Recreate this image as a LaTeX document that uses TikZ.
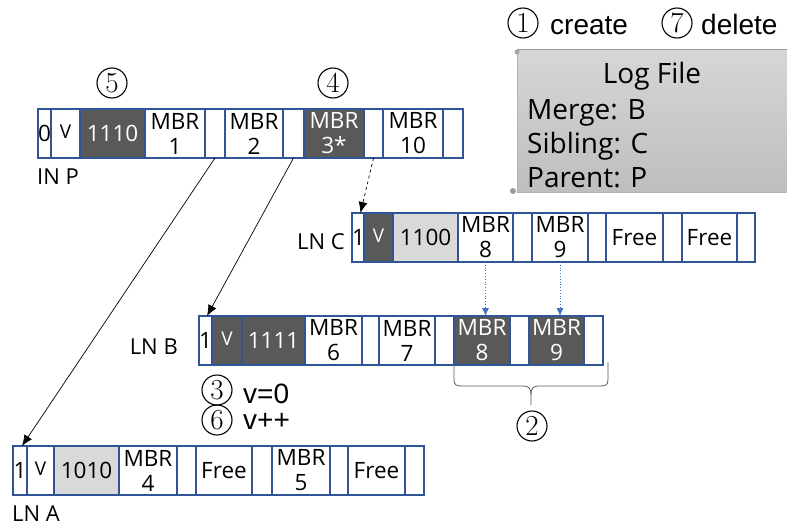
\documentclass[tikz,border=0pt]{standalone}
\usepackage{fontspec}
\setsansfont{Open Sans}
\newfontfamily\arialfont{Liberation Sans}
\usetikzlibrary{arrows.meta,calc}

\definecolor{cellblue}{HTML}{2F5597}
\definecolor{darkcell}{HTML}{595959}
\definecolor{lightcell}{HTML}{D9D9D9}
\definecolor{ptrblue}{HTML}{4472C4}
\definecolor{logtop}{HTML}{D6D6D6}
\definecolor{logbot}{HTML}{BEBEBE}

\tikzset{
  cell/.style={draw=cellblue, line width=1.1pt, inner sep=0pt, outer sep=0pt,
    anchor=north west, align=center, fill=white, text=black,
    minimum height=49pt, font=\sffamily\fontsize{22.5}{25}\selectfont},
  dk/.style={fill=darkcell, text=white},
  lt/.style={fill=lightcell},
  ptr/.style={line width=0.7pt, -{Latex[length=11pt,width=9pt]}},
  bptr/.style={ptrblue, line width=0.8pt, dotted, -{Latex[length=8pt,width=7pt]}},
  circnum/.style={circle, draw, line width=1.1pt, minimum size=30pt, inner sep=0pt,
    font=\rmfamily\fontsize{29}{29}\selectfont},
  rowlabel/.style={font=\sffamily\fontsize{22}{24}\selectfont, inner sep=0pt},
  steptext/.style={font=\arialfont\fontsize{28}{32}\selectfont, inner sep=0pt, anchor=base west},
  logtext/.style={font=\sffamily\fontsize{28}{30}\selectfont, inner sep=0pt},
}

% one cell of a node row: name, left x, right x, top y, style, text
\newcommand\mkcell[6]{%
  \node[cell,#5,minimum width={(#3-#2)*1pt}] (#1) at (#2,#4) {#6};}
\newcommand\vflag{\raisebox{3pt}{\fontsize{19}{20}\selectfont V}}

\begin{document}
\begin{tikzpicture}[x=1pt,y=-1pt]
\useasboundingbox (0,0) rectangle (787,527);
\clip (0,0) rectangle (787,527);

% ---- log file scroll ----
\shade[top color=logtop, bottom color=logbot] (517,50) rectangle (795,192);
\draw[gray!80, line width=1pt] (517,50) -- (795,50);
\draw[gray!60, line width=0.8pt] (517,50) -- (517,192) -- (795,192);
\fill[gray!70] (517,52) circle (2.5);
\fill[gray!80] (513,191) circle (3);
\node[logtext, anchor=base] (logtitle) at (652,83) {Log File};
\node[logtext, anchor=base west] (logm) at (527,119) {Merge: B};
\node[logtext, anchor=base west] (logs) at (527,153) {Sibling: C};
\node[logtext, anchor=base west] (logp) at (527,187) {Parent: P};

\node[circnum] (n1) at (523,23) {1};
\node[steptext] (tcreate) at (550,35) {create};
\node[circnum] (n7) at (677,23) {7};
\node[steptext] (tdelete) at (701,35) {delete};

% ---- inner node P ----
\mkcell{p0}{38}{51}{109}{}{0}
\mkcell{p1}{51}{80}{109}{}{\vflag}
\mkcell{p2}{80}{145}{109}{dk}{1110}
\mkcell{p3}{145}{205}{109}{}{MBR\\1}
\mkcell{p4}{205}{225}{109}{}{}
\mkcell{p5}{225}{283}{109}{}{MBR\\2}
\mkcell{p6}{283}{304}{109}{}{}
\mkcell{p7}{304}{364}{109}{dk}{MBR\\3*}
\mkcell{p8}{364}{383}{109}{}{}
\mkcell{p9}{383}{443}{109}{}{MBR\\10}
\mkcell{p10}{443}{463}{109}{}{}
\node[rowlabel, anchor=base west] (lp) at (37,184) {IN P};
\node[circnum] (n5) at (112,83) {5};
\node[circnum] (n4) at (333,83) {4};

% ---- leaf node C ----
\mkcell{c0}{352}{364}{213}{}{1}
\mkcell{c1}{364}{393}{213}{dk}{\vflag}
\mkcell{c2}{393}{458}{213}{lt}{1100}
\mkcell{c3}{458}{513}{213}{}{MBR\\8}
\mkcell{c4}{513}{532}{213}{}{}
\mkcell{c5}{532}{588}{213}{}{MBR\\9}
\mkcell{c6}{588}{606}{213}{}{}
\mkcell{c7}{606}{663}{213}{}{Free}
\mkcell{c8}{663}{682}{213}{}{}
\mkcell{c9}{682}{737}{213}{}{Free}
\mkcell{c10}{737}{755}{213}{}{}
\node[rowlabel, anchor=base east] (lc) at (345,249) {LN C};

% ---- leaf node B ----
\mkcell{b0}{199}{212}{316}{}{1}
\mkcell{b1}{212}{242}{316}{dk}{\vflag}
\mkcell{b2}{242}{305}{316}{dk}{1111}
\mkcell{b3}{305}{362}{316}{}{MBR\\6}
\mkcell{b4}{362}{379}{316}{}{}
\mkcell{b5}{379}{435}{316}{}{MBR\\7}
\mkcell{b6}{435}{454}{316}{}{}
\mkcell{b7}{454}{510}{316}{dk}{MBR\\8}
\mkcell{b8}{510}{529}{316}{}{}
\mkcell{b9}{529}{584}{316}{dk}{MBR\\9}
\mkcell{b10}{584}{603}{316}{}{}
\node[rowlabel, anchor=base east] (lb) at (178,354) {LN B};

\node[circnum] (n3) at (217,390) {3};
\node[steptext] (tv0) at (243,403) {v=0};
\node[circnum] (n6) at (217,420) {6};
\node[steptext] (tvpp) at (243,429) {v++};

% ---- leaf node A ----
\mkcell{a0}{13}{27}{446}{}{1}
\mkcell{a1}{27}{54}{446}{}{\vflag}
\mkcell{a2}{54}{119}{446}{lt}{1010}
\mkcell{a3}{119}{177}{446}{}{MBR\\4}
\mkcell{a4}{177}{196}{446}{}{}
\mkcell{a5}{196}{252}{446}{}{Free}
\mkcell{a6}{252}{272}{446}{}{}
\mkcell{a7}{272}{330}{446}{}{MBR\\5}
\mkcell{a8}{330}{348}{446}{}{}
\mkcell{a9}{348}{405}{446}{}{Free}
\mkcell{a10}{405}{424}{446}{}{}
\node[rowlabel, anchor=base west] (la) at (12,521) {LN A};

% ---- pointers ----
\draw[ptr] (p4.south) -- ($(a0.north)+(2,0)$);
\draw[ptr] (p6.south) -- ($(b0.north)+(1.5,0)$);
\draw[ptr, dashed] (p8.south) -- ($(c0.north)+(2,0)$);
\draw[bptr] (c3.south) -- (c3.south |- b7.north);
\draw[bptr] (c5.south) -- (c5.south |- b9.north);

% ---- brace over the moved entries ----
\draw[darkcell, line width=0.8pt]
  (b7.south west) -- (454,379) .. controls (454,385) and (456,386) .. (462,386)
  -- (522,386) .. controls (529,386) and (531,388) .. (531,395) -- (531,405);
\draw[darkcell, line width=0.8pt]
  (531,395) .. controls (531,388) and (533,386) .. (540,386)
  -- (600,386) .. controls (606,386) and (608,385) .. (608,379) -- (608,362);
\node[circnum] (n2) at (532,426) {2};
\end{tikzpicture}
\end{document}
